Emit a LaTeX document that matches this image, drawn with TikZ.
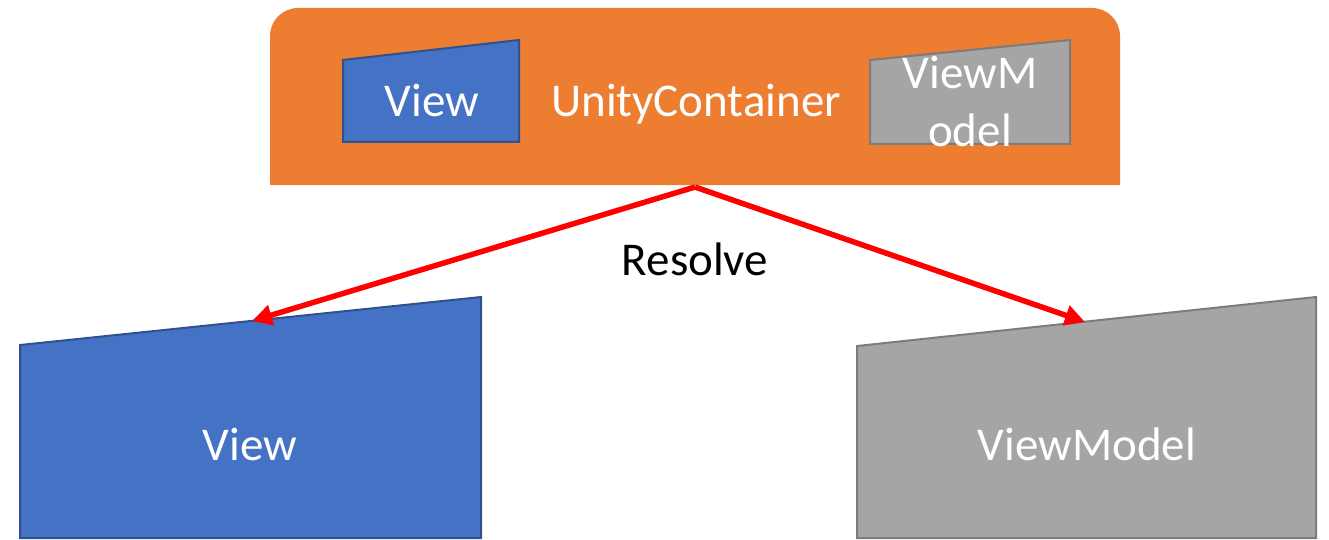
\documentclass[tikz,border=0pt]{standalone}
\usepackage{fontspec}
\setmainfont{Carlito}
\usetikzlibrary{arrows.meta}
\definecolor{unityorange}{HTML}{ED7D31}
\definecolor{viewblue}{HTML}{4472C4}
\definecolor{viewedge}{HTML}{2F528F}
\definecolor{vmgray}{HTML}{A5A5A5}
\definecolor{vmedge}{HTML}{7C7C7C}
\begin{document}
\begin{tikzpicture}[x=1pt,y=-1pt,
  label/.style={font=\fontsize{47}{56}\selectfont, text=white, anchor=base, inner sep=0pt},
  viewshape/.style={fill=viewblue, draw=viewedge, line width=2pt},
  vmshape/.style={fill=vmgray, draw=vmedge, line width=2pt},
  resolvearrow/.style={draw=red, line width=5.5pt, -{Triangle[length=20pt,width=20pt]}}]
\useasboundingbox (0,0) rectangle (1329,540);

% container with rounded top corners
\fill[unityorange] (270,185) -- (270,36) arc[start angle=180,end angle=270,radius=28]
  -- (1092,8) arc[start angle=270,end angle=360,radius=28] -- (1120,185) -- cycle;
\coordinate (cbottom) at (695,187);

% small shapes inside the container
\path[viewshape] (343,60) -- (519,40) -- (519,142) -- (343,142) -- cycle;
\path[vmshape] (870,60) -- (1070,40) -- (1070,144) -- (870,144) -- cycle;
\node[label] (sview) at (432,117) {View};
\node[label] (unity) at (696,117) {UnityContainer};
\node[label] (svm1) at (970,89) {ViewM};
\node[label] (svm2) at (970,147) {odel};

% large shapes
\path[viewshape] (20,345) -- (481,297) -- (481,538) -- (20,538) -- cycle;
\path[vmshape] (857,346) -- (1316,297) -- (1316,538) -- (857,538) -- cycle;
\coordinate (viewtop) at (252,321);
\coordinate (vmtop) at (1085,322);
\node[label] (bview) at (250,460) {View};
\node[label] (bvm) at (1087,460) {ViewModel};

% resolve connectors
\draw[resolvearrow] (cbottom) -- (viewtop);
\draw[resolvearrow] (cbottom) -- (vmtop);
\node[label, text=black] (resolve) at (695,275) {Resolve};
\end{tikzpicture}
\end{document}
